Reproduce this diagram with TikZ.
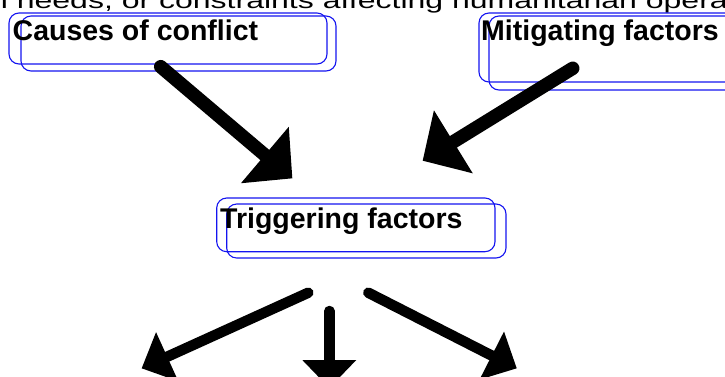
\documentclass[tikz,border=0pt]{standalone}
\usepackage{fontspec}
\setmainfont{Liberation Sans}
\usetikzlibrary{arrows.meta}
\definecolor{boxblue}{RGB}{20,20,240}
\begin{document}
\begin{tikzpicture}[x=1pt,y=-1pt,
  frame/.style={draw=boxblue, line width=1.1pt, rounded corners=10pt},
  boxtext/.style={inner sep=0pt, anchor=base west, font=\fontsize{28.5}{32}\selectfont\bfseries},
  bigarrow/.style={line width=13.5pt, line cap=round,
    -{Triangle[length=36pt,width=74pt,line width=0pt]}},
  smallarrow/.style={line width=10.5pt, line cap=round,
    -{Triangle[length=28pt,width=54pt,line width=0pt]}}]
\useasboundingbox (0,0) rectangle (725,376);
\clip (0,0) rectangle (725,376);
\fill[white] (0,0) rectangle (725,376);

% heading line running off the top edge
\node[inner sep=0pt, anchor=base west] (heading) at (-10,8.5)
  {\scalebox{1}[0.7]{\fontsize{32}{34}\selectfont n needs, or constraints affecting humanitarian opera}};

% doubled frames
\draw[frame] (9,13) rectangle (327,64);
\draw[frame] (21,16) rectangle (336,71);
\draw[frame] (479,13) rectangle (762,82);
\draw[frame] (489,16) rectangle (772,90);
\draw[frame] (216.7,198) rectangle (495,251.7);
\draw[frame] (226.7,204) rectangle (506,258);

% labels
\node[boxtext] (causes) at (12.5,40.5) {Causes of conflict};
\node[boxtext] (mitigating) at (481,40) {Mitigating factors};
\node[boxtext] (triggering) at (220,228.3) {Triggering factors};

% arrow ends
\coordinate (causesOut) at (160.7,66.7);
\coordinate (causesIn) at (292.3,178.3);
\coordinate (mitigOut) at (572.7,68.3);
\coordinate (mitigIn) at (422.7,160.7);
\coordinate (trigOutL) at (308.3,292.7);
\coordinate (trigOutM) at (329.3,311);
\coordinate (trigOutR) at (368.3,292.7);
\coordinate (effectL) at (141.7,368.3);
\coordinate (effectM) at (329.3,388);
\coordinate (effectR) at (516.7,368.3);

\draw[bigarrow] (causesOut) -- (causesIn);
\draw[bigarrow] (mitigOut) -- (mitigIn);
\draw[smallarrow] (trigOutL) -- (effectL);
\draw[smallarrow] (trigOutM) -- (effectM);
\draw[smallarrow] (trigOutR) -- (effectR);
\end{tikzpicture}
\end{document}
